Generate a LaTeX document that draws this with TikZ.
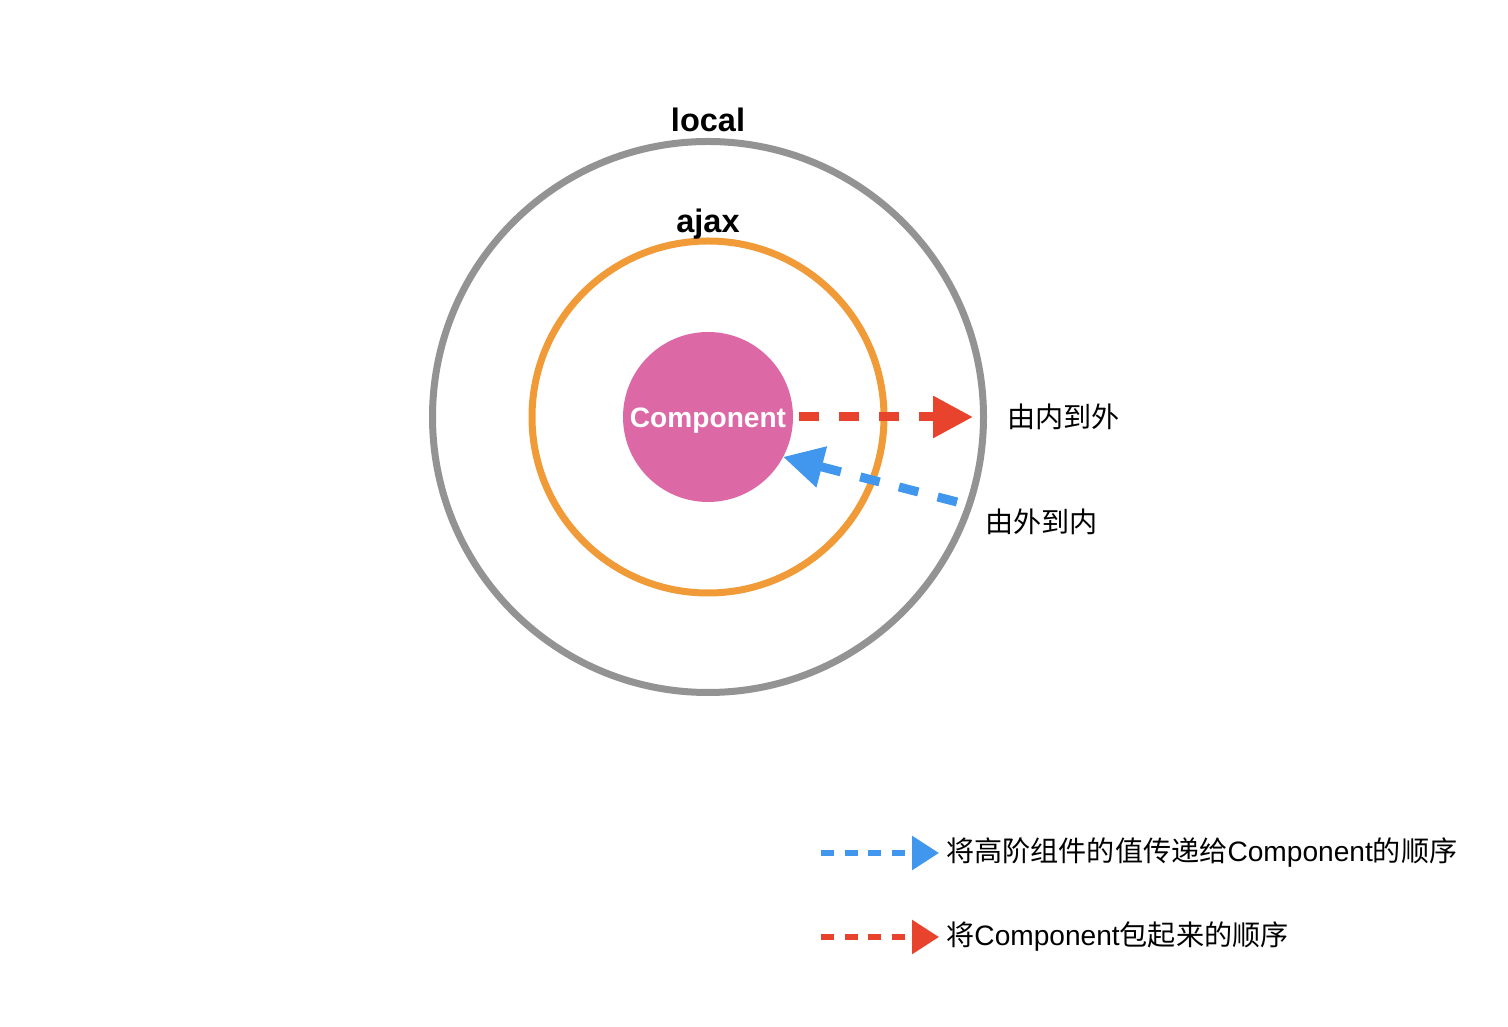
\documentclass[tikz,border=0pt]{standalone}
\usepackage{fontspec}
\setmainfont{Liberation Sans}
\newfontfamily\cjk{Noto Sans CJK SC}
\usetikzlibrary{arrows.meta, positioning}
\definecolor{ringgray}{HTML}{939393}
\definecolor{ringorange}{HTML}{F09B38}
\definecolor{comppink}{HTML}{DC69A5}
\definecolor{flowred}{HTML}{E8432C}
\definecolor{flowblue}{HTML}{4197EE}

\begin{document}
\begin{tikzpicture}[
    ring/.style={circle, draw, line width=0.14cm, inner sep=0, outer sep=0},
    ringlabel/.style={font=\fontsize{18.5}{21}\selectfont\bfseries, inner sep=0},
    cjklabel/.style={font=\fontsize{16}{19}\selectfont\cjk, inner sep=0},
    flow/.style={line width=0.18cm, dash pattern=on 0.4cm off 0.4cm, -{Triangle[length=0.8cm, width=0.8cm]}},
    keyflow/.style={line width=0.12cm, dash pattern=on 0.26cm off 0.21cm, -{Triangle[length=0.54cm, width=0.66cm]}}
]
\useasboundingbox (0,0) rectangle (30.16,20.52);

\node (local) [ring, draw=ringgray, minimum size=11.02cm] at (14.16,12.18) {};
\node (ajax) [ring, draw=ringorange, minimum size=7.04cm] at (14.16,12.18) {};
\node (comp) [circle, fill=comppink, minimum size=3.4cm, inner sep=0, outer sep=0, text=white, text depth=0pt, font=\fontsize{16}{19}\selectfont\bfseries] at (14.16,12.18) {\raisebox{-0.03cm}{Component}};

\node (locallabel) [ringlabel, above=0.19cm of local] {local};
\node (ajaxlabel) [ringlabel, above=0.03cm of ajax] {ajax};

% flows
\coordinate (outtip) at (19.46,12.18);
\coordinate (intail) at (19.14,10.48);
\draw[flow, flowred, shorten <=0.12cm] (comp) -- (outtip);
\draw[flow, flowblue] (intail) -- (comp.-28);
\node (outlabel) [cjklabel, right=0.68cm of outtip] {由内到外};
\node (inlabel) [cjklabel, anchor=west] at (19.70,10.08) {由外到内};

% legend
\coordinate (keyblue) at (16.42,3.46);
\coordinate (keybluetip) at (18.78,3.46);
\coordinate (keyred) at (16.42,1.78);
\coordinate (keyredtip) at (18.78,1.78);
\draw[keyflow, flowblue] (keyblue) -- (keybluetip);
\draw[keyflow, flowred] (keyred) -- (keyredtip);
\node (keybluetext) [cjklabel, right=0.14cm of keybluetip] {将高阶组件的值传递给{\rmfamily Component}的顺序};
\node (keyredtext) [cjklabel, right=0.14cm of keyredtip] {将{\rmfamily Component}包起来的顺序};
\end{tikzpicture}
\end{document}
